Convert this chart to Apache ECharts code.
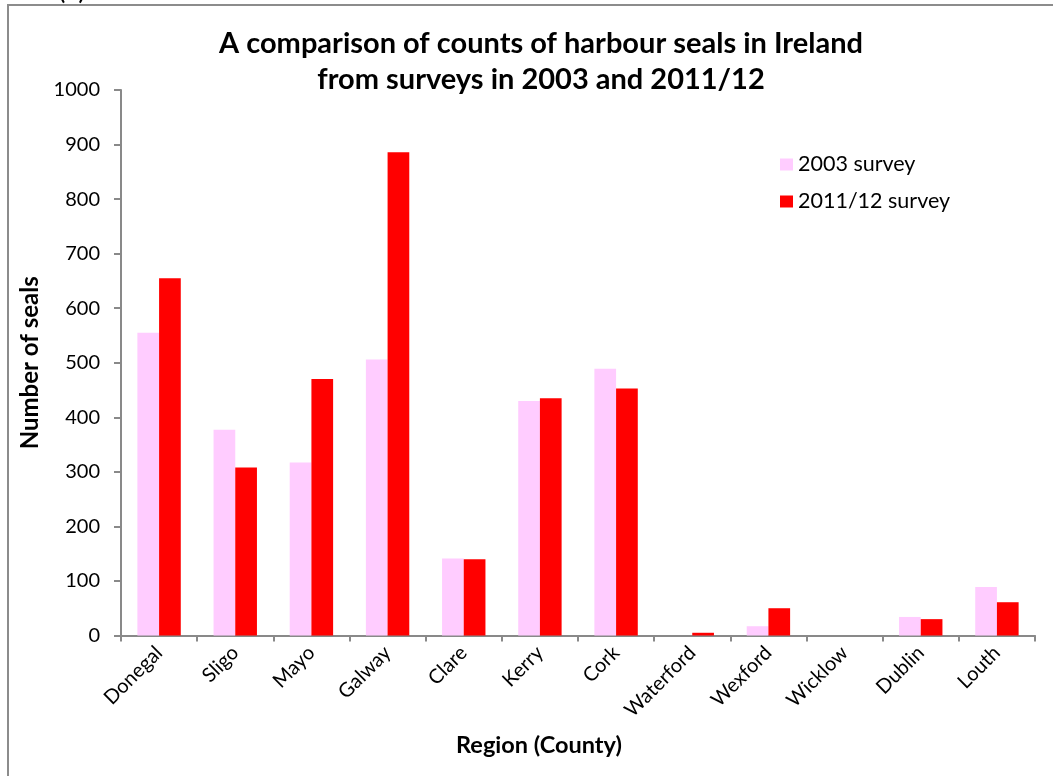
<!DOCTYPE html>
<html>
<head>
<meta charset="utf-8">
<title>Harbour seals in Ireland</title>
<script src="https://cdn.jsdelivr.net/npm/echarts@6/dist/echarts.min.js"></script>
<style>
  html, body { margin: 0; padding: 0; background: #ffffff; }
  #chart { width: 1053px; height: 776px; }
</style>
</head>
<body>
<div id="chart"></div>
<script>
// Counties, west coast first then round to the east
const counties = ['Donegal', 'Sligo', 'Mayo', 'Galway', 'Clare', 'Kerry', 'Cork',
                  'Waterford', 'Wexford', 'Wicklow', 'Dublin', 'Louth'];
// Harbour seal counts per county
const survey2003 = [555, 377, 317, 506, 141, 430, 489, 0, 17, 0, 34, 89];
const survey2011 = [655, 308, 470, 886, 140, 435, 453, 5, 50, 0, 30, 61];
const yTicks = { min: 0, max: 1000, interval: 100 };

const FONT = 'Lato';
const AXIS_GREY = '#898989';

const chart = echarts.init(document.getElementById('chart'), null, { renderer: 'canvas' });

chart.setOption({
  backgroundColor: '#ffffff',
  animation: false,
  title: {
    text: 'A comparison of counts of harbour seals in Ireland\nfrom surveys in 2003 and 2011/12',
    left: 536,
    top: 21,
    textAlign: 'center',
    textStyle: {
      fontFamily: FONT,
      fontWeight: 'bold',
      fontSize: 29,
      lineHeight: 36,
      color: '#000000'
    }
  },
  graphic: [
    {
      // panel frame (top and left edges fall inside the canvas)
      type: 'rect',
      shape: { x: 8, y: 5, width: 1100, height: 900 },
      style: { fill: 'none', stroke: '#8c8c8c', lineWidth: 2 },
      silent: true
    },
    {
      type: 'text',
      left: 58,
      top: -24,
      style: { text: '(a)', fontFamily: FONT, fontSize: 28, fill: '#000000' },
      silent: true
    }
  ],
  legend: {
    orient: 'vertical',
    left: 775,
    top: 147,
    itemWidth: 13,
    itemHeight: 12,
    itemGap: 12,
    icon: 'rect',
    textStyle: { fontFamily: FONT, fontSize: 21.5, lineHeight: 25, color: '#000000' },
    data: ['2003 survey', '2011/12 survey']
  },
  grid: {
    left: 121,
    right: 18,
    top: 90,
    bottom: 140.5,
    containLabel: false
  },
  xAxis: {
    type: 'category',
    data: counties,
    name: 'Region (County)',
    nameLocation: 'middle',
    nameGap: 98,
    nameTextStyle: {
      fontFamily: FONT,
      fontWeight: 'bold',
      fontSize: 23.5,
      color: '#000000',
      padding: [0, 78, 0, 0]
    },
    axisLine: { lineStyle: { color: AXIS_GREY, width: 2 } },
    axisTick: { show: true, length: 6, inside: false, lineStyle: { color: AXIS_GREY, width: 2 } },
    axisLabel: {
      rotate: 45,
      margin: 14,
      interval: 0,
      fontFamily: FONT,
      fontSize: 20,
      color: '#000000'
    },
    splitLine: { show: false }
  },
  yAxis: {
    type: 'value',
    min: yTicks.min,
    max: yTicks.max,
    interval: yTicks.interval,
    name: 'Number of seals',
    nameLocation: 'middle',
    nameGap: 68,
    nameRotate: 90,
    nameTextStyle: { fontFamily: FONT, fontWeight: 'bold', fontSize: 24, color: '#000000' },
    axisLine: { show: true, lineStyle: { color: AXIS_GREY, width: 2 } },
    axisTick: { show: true, length: 7, inside: false, lineStyle: { color: AXIS_GREY, width: 2 } },
    axisLabel: {
      margin: 21,
      fontFamily: FONT,
      fontSize: 20,
      color: '#000000',
      formatter: (v) => String(v)
    },
    splitLine: { show: false }
  },
  series: [
    {
      name: '2003 survey',
      type: 'bar',
      data: survey2003,
      barWidth: 21.7,
      barGap: '0%',
      itemStyle: { color: '#ffccff' }
    },
    {
      name: '2011/12 survey',
      type: 'bar',
      data: survey2011,
      barWidth: 21.7,
      barGap: '0%',
      itemStyle: { color: '#ff0000' }
    }
  ]
});
</script>
</body>
</html>
